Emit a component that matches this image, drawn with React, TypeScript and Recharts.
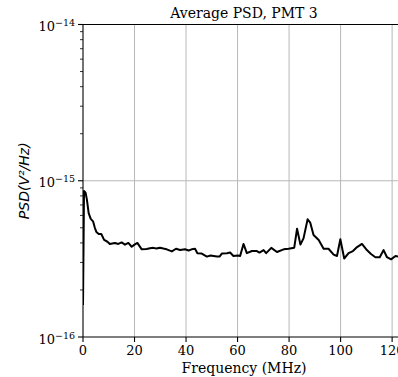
import React from 'react';
import { LineChart, Line, XAxis, YAxis, CartesianGrid } from 'recharts';

const freqs = [
  0, 0.4, 1.0, 1.5, 2.2, 3.0, 3.9, 4.6, 5.2, 6.1, 7.1, 8.2, 9.5, 10.4, 11.4, 12.4, 13.7, 15.0, 16.3, 17.6,
  18.9, 20.0, 21.1, 22.8, 24.7, 26.0, 27.3, 28.5, 29.9, 31.2, 32.5, 34.5, 36.1, 37.7, 39.6, 41.0, 42.2, 43.5,
  44.4, 46.1, 48.1, 49.5, 50.7, 52.0, 53.0, 53.9, 55.9, 57.1, 58.4, 60.0, 61.0, 62.3, 63.6, 65.6, 67.5, 68.5,
  70.1, 71.1, 73.1, 75.3, 77.9, 79.8, 82.0, 83.1, 84.4, 85.6, 87.2, 88.2, 89.5, 91.5, 93.4, 95.3, 97.3, 98.6,
  99.9, 101.4, 103.1, 104.8, 106.1, 108.3, 110.2, 111.8, 113.5, 115.2, 116.7, 118.0, 119.6, 121.3, 122.6,
  124.0, 125.0,
];

const psd = [
  1.6e-16, 8.6e-16, 8.4e-16, 7.6e-16, 6.2e-16, 5.7e-16, 5.5e-16, 5.0e-16, 4.7e-16, 4.56e-16, 4.56e-16, 4.18e-16,
  4.07e-16, 3.94e-16, 3.97e-16, 4.0e-16, 3.94e-16, 4.03e-16, 3.9e-16, 4.0e-16, 3.78e-16, 3.9e-16, 4.0e-16,
  3.64e-16, 3.66e-16, 3.7e-16, 3.72e-16, 3.68e-16, 3.73e-16, 3.68e-16, 3.64e-16, 3.53e-16, 3.67e-16, 3.6e-16,
  3.64e-16, 3.58e-16, 3.64e-16, 3.67e-16, 3.44e-16, 3.42e-16, 3.27e-16, 3.32e-16, 3.3e-16, 3.28e-16, 3.27e-16,
  3.42e-16, 3.44e-16, 3.47e-16, 3.3e-16, 3.32e-16, 3.3e-16, 3.94e-16, 3.44e-16, 3.55e-16, 3.55e-16, 3.47e-16,
  3.6e-16, 3.44e-16, 3.72e-16, 3.5e-16, 3.64e-16, 3.67e-16, 3.73e-16, 4.93e-16, 3.9e-16, 4.28e-16, 5.67e-16,
  5.4e-16, 4.5e-16, 4.18e-16, 3.67e-16, 3.67e-16, 3.37e-16, 3.3e-16, 4.22e-16, 3.18e-16, 3.44e-16, 3.55e-16,
  3.73e-16, 3.94e-16, 3.6e-16, 3.4e-16, 3.24e-16, 3.24e-16, 3.6e-16, 3.24e-16, 3.14e-16, 3.3e-16, 3.27e-16,
  3.3e-16, 3.28e-16,
];

const xTicks = [0, 20, 40, 60, 80, 100, 120];
const yMajorTicks = [1e-16, 1e-15, 1e-14];
const yMinorTicks = [
  2e-16, 3e-16, 4e-16, 5e-16, 6e-16, 7e-16, 8e-16, 9e-16,
  2e-15, 3e-15, 4e-15, 5e-15, 6e-15, 7e-15, 8e-15, 9e-15,
];
const yMajorLabels = ['−16', '−15', '−14'];

const title = 'Average PSD, PMT 3';
const xLabel = 'Frequency (MHz)';

const data = freqs.map((f, i) => ({ f, v: psd[i] }));
const yAllTicks = [...yMajorTicks, ...yMinorTicks].sort((a, b) => a - b);

const SERIF = '"DejaVu Serif", serif';

const YTick = (props: any) => {
  const { x, y, payload } = props;
  const v = payload.value;
  const majorIdx = yMajorTicks.findIndex((m) => Math.abs(m - v) / m < 1e-6);
  const major = majorIdx >= 0;
  return (
    <g>
      <line x1={x - (major ? 5 : 3)} x2={x} y1={y} y2={y} stroke="#000" strokeWidth={major ? 1.1 : 0.8} />
      {major && (
        <text x={x - 8} y={y + 6.5} textAnchor="end" fontFamily={SERIF} fontSize={13} fill="#000">
          <tspan>10</tspan>
          <tspan dy={-5} fontSize={9.5}>{yMajorLabels[majorIdx]}</tspan>
        </text>
      )}
    </g>
  );
};

export default function App() {
  return (
    <div style={{ position: 'fixed', left: 0, top: 0, width: 398, height: 377, overflow: 'hidden', background: '#fff' }}>
      <LineChart width={420} height={377} data={data} margin={{ top: 23.5, right: 15, bottom: 0, left: 0 }}>
        <CartesianGrid
          horizontalValues={[1e-15]}
          verticalValues={[20, 40, 60, 80, 100, 120]}
          stroke="#b8b8b8"
          strokeWidth={1}
        />
        <XAxis
          dataKey="f"
          type="number"
          domain={[0, 125]}
          ticks={xTicks}
          interval={0}
          height={40}
          tickSize={5}
          tickMargin={4}
          allowDataOverflow
          axisLine={{ stroke: '#000', strokeWidth: 1.1 }}
          tickLine={{ stroke: '#000', strokeWidth: 1.1 }}
          tick={{ fill: '#000', fontSize: 13, fontFamily: SERIF }}
          label={{
            content: (p: any) => {
              const vb = p.viewBox;
              return (
                <text x={vb.x + vb.width / 2} y={vb.y + 36} textAnchor="middle" fontFamily={SERIF} fontSize={14} fill="#000">
                  {xLabel}
                </text>
              );
            },
          }}
        />
        <XAxis
          xAxisId="top"
          orientation="top"
          dataKey="f"
          type="number"
          domain={[0, 125]}
          height={1}
          ticks={xTicks}
          tick={false}
          tickLine={false}
          axisLine={{ stroke: '#000', strokeWidth: 1.1 }}
          label={{
            content: (p: any) => {
              const vb = p.viewBox;
              return (
                <text x={vb.x + vb.width / 2} y={vb.y + vb.height - 6.5} textAnchor="middle" fontFamily={SERIF} fontSize={14} fill="#000">
                  {title}
                </text>
              );
            },
          }}
        />
        <YAxis
          scale="log"
          type="number"
          domain={[1e-16, 1e-14]}
          ticks={yAllTicks}
          interval={0}
          width={83}
          tickSize={0}
          tickMargin={0}
          tickLine={false}
          allowDataOverflow
          axisLine={{ stroke: '#000', strokeWidth: 1.1 }}
          tick={<YTick />}
          label={{
            content: (p: any) => {
              const vb = p.viewBox;
              const cy = vb.y + vb.height / 2;
              return (
                <text
                  x={29}
                  y={cy}
                  transform={`rotate(-90, 29, ${cy})`}
                  textAnchor="middle"
                  fontFamily='"DejaVu Sans", sans-serif'
                  fontStyle="italic"
                  fontSize={14}
                  fill="#000"
                >
                  PSD(V²/Hz)
                </text>
              );
            },
          }}
        />
        <Line
          dataKey="v"
          type="linear"
          stroke="#000"
          strokeWidth={2}
          dot={false}
          strokeLinejoin="round"
          isAnimationActive={false}
        />
      </LineChart>
    </div>
  );
}
